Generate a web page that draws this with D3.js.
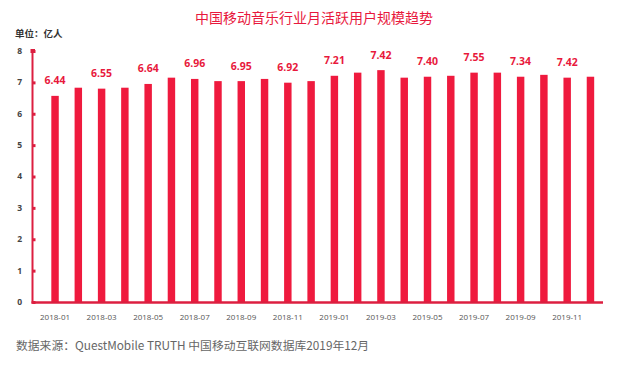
<!DOCTYPE html>
<html>
<head>
<meta charset="utf-8">
<script src="https://cdn.jsdelivr.net/npm/d3@7/dist/d3.min.js"></script>
<style>
    body { margin: 0; background: #fff; }
    svg { display: block; font-family: "Noto Sans CJK SC", "Noto Sans", sans-serif; }
</style>
</head>
<body>
<svg id="chart" width="619" height="367"></svg>
<script>
    'use strict';

    const months = ["2018-01", "2018-02", "2018-03", "2018-04", "2018-05", "2018-06",
        "2018-07", "2018-08", "2018-09", "2018-10", "2018-11", "2018-12",
        "2019-01", "2019-02", "2019-03", "2019-04", "2019-05", "2019-06",
        "2019-07", "2019-08", "2019-09", "2019-10", "2019-11", "2019-12"];

    // bar heights as drawn in the picture
    const barValues = [6.57, 6.83, 6.80, 6.83, 6.95, 7.15, 7.11, 7.04, 7.04, 7.11, 6.99, 7.04,
        7.21, 7.31, 7.39, 7.15, 7.18, 7.21, 7.31, 7.31, 7.18, 7.24, 7.15, 7.18];

    // printed labels, on every other month
    const labelMonths = ["2018-01", "2018-03", "2018-05", "2018-07", "2018-09", "2018-11",
        "2019-01", "2019-03", "2019-05", "2019-07", "2019-09", "2019-11"];
    const labelTexts = ["6.44", "6.55", "6.64", "6.96", "6.95", "6.92",
        "7.21", "7.42", "7.40", "7.55", "7.34", "7.42"];

    const yTicks = [0, 1, 2, 3, 4, 5, 6, 7, 8];

    const red = "#ef1a3e";
    const axisRed = "#dc1f40";

    const svg = d3.select("#chart");

    const x = d3.scaleBand()
        .domain(months)
        .range([43.4, 602.1])
        .paddingInner(0.68)
        .paddingOuter(0.34);

    const y = d3.scaleLinear().domain([0, 8]).range([302, 51]);

    // title and unit
    svg.append("text")
        .attr("x", 314).attr("y", 23)
        .attr("text-anchor", "middle")
        .attr("fill", "#e8183d")
        .attr("font-size", 14)
        .text("中国移动音乐行业月活跃用户规模趋势");

    svg.append("text")
        .attr("x", 15).attr("y", 37)
        .attr("fill", "#333")
        .attr("font-size", 9.5)
        .attr("font-weight", "bold")
        .text("单位：亿人");

    // bars
    svg.append("g").selectAll("rect")
        .data(months)
        .join("rect")
        .attr("x", d => x(d))
        .attr("width", x.bandwidth())
        .attr("y", (d, i) => y(barValues[i]))
        .attr("height", (d, i) => y(0) - y(barValues[i]))
        .attr("fill", red);

    // value labels
    svg.append("g").selectAll("text")
        .data(labelMonths)
        .join("text")
        .attr("x", d => x(d) + x.bandwidth() / 2)
        .attr("y", d => y(barValues[months.indexOf(d)]) - 11.5)
        .attr("text-anchor", "middle")
        .attr("fill", "#e8193c")
        .attr("font-size", 10.5)
        .attr("font-weight", "bold")
        .attr("font-family", "'Open Sans', 'Noto Sans', sans-serif")
        .text((d, i) => labelTexts[i]);

    // y axis
    const yAxis = d3.axisRight(y)
        .tickValues(yTicks)
        .tickSize(3)
        .tickSizeOuter(0)
        .tickFormat("");
    const yg = svg.append("g").attr("transform", "translate(32.5,0)").call(yAxis);
    yg.select(".domain").remove();
    yg.selectAll(".tick line").attr("stroke", axisRed).attr("stroke-width", 3);

    svg.append("rect")
        .attr("x", 30.5).attr("y", y(8) - 2)
        .attr("width", 4.5).attr("height", 4)
        .attr("fill", axisRed);

    svg.append("line")
        .attr("x1", 32.5).attr("x2", 32.5)
        .attr("y1", y(8)).attr("y2", y(0) + 1.5)
        .attr("stroke", axisRed).attr("stroke-width", 2);

    svg.append("g").selectAll("text")
        .data(yTicks)
        .join("text")
        .attr("x", 22)
        .attr("y", d => y(d))
        .attr("dy", "0.35em")
        .attr("text-anchor", "end")
        .attr("fill", "#444")
        .attr("font-size", 8.5)
        .attr("font-weight", "bold")
        .attr("font-family", "'Open Sans', 'Noto Sans', sans-serif")
        .text(d => d);

    // x axis
    svg.append("line")
        .attr("x1", 31.5).attr("x2", 603)
        .attr("y1", y(0) + 0.5).attr("y2", y(0) + 0.5)
        .attr("stroke", axisRed).attr("stroke-width", 2.5);

    svg.append("g").selectAll("text")
        .data(labelMonths)
        .join("text")
        .attr("x", d => x(d) + x.bandwidth() / 2)
        .attr("y", 319.5)
        .attr("text-anchor", "middle")
        .attr("fill", "#555")
        .attr("font-size", 8)
        .attr("font-family", "'Open Sans', 'Noto Sans', sans-serif")
        .text(d => d);

    // source note
    svg.append("text")
        .attr("x", 16).attr("y", 349.5)
        .attr("fill", "#666")
        .attr("font-size", 11.8)
        .text("数据来源：QuestMobile TRUTH 中国移动互联网数据库2019年12月");
</script>
</body>
</html>
